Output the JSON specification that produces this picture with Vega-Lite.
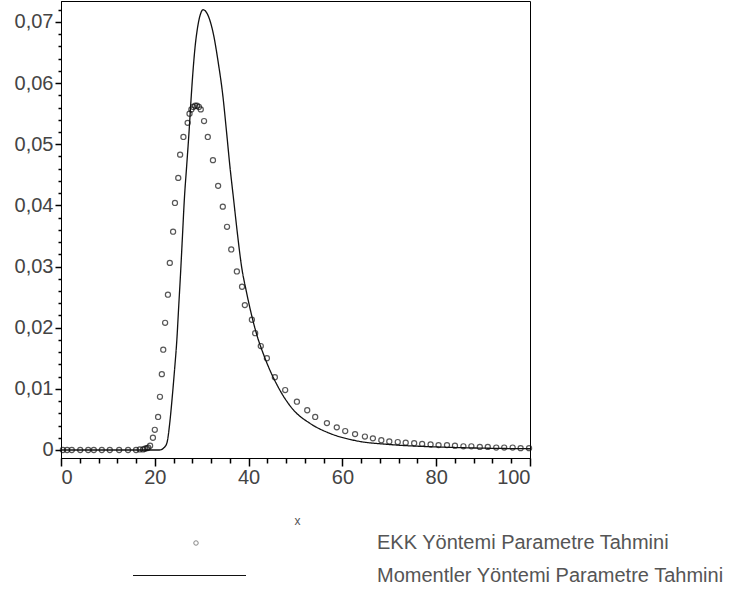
{
  "$schema": "https://vega.github.io/schema/vega-lite/v6.json",
  "width": 469,
  "height": 457,
  "autosize": {"type": "none"},
  "padding": {"left": 61, "top": 1, "right": 205, "bottom": 142},
  "background": "white",
  "config": {"view": {"stroke": "#000", "strokeWidth": 1}, "font": "Liberation Sans", "axis": {"tickWidth": 1.5, "tickOpacity": 1, "zindex": 1}},
  "datasets": {
    "ekk": [
      {"x": 0.4, "y": 0, "series": "EKK Yöntemi Parametre Tahmini"},
      {"x": 1.3, "y": 0, "series": "EKK Yöntemi Parametre Tahmini"},
      {"x": 2.3, "y": 0, "series": "EKK Yöntemi Parametre Tahmini"},
      {"x": 4.1, "y": 0, "series": "EKK Yöntemi Parametre Tahmini"},
      {"x": 5.8, "y": 0, "series": "EKK Yöntemi Parametre Tahmini"},
      {"x": 7.0, "y": 0, "series": "EKK Yöntemi Parametre Tahmini"},
      {"x": 8.7, "y": 0, "series": "EKK Yöntemi Parametre Tahmini"},
      {"x": 10.4, "y": 0, "series": "EKK Yöntemi Parametre Tahmini"},
      {"x": 12.4, "y": 0, "series": "EKK Yöntemi Parametre Tahmini"},
      {"x": 14.3, "y": 0, "series": "EKK Yöntemi Parametre Tahmini"},
      {"x": 16.0, "y": 0, "series": "EKK Yöntemi Parametre Tahmini"},
      {"x": 16.8, "y": 0.0001, "series": "EKK Yöntemi Parametre Tahmini"},
      {"x": 17.5, "y": 0.0001, "series": "EKK Yöntemi Parametre Tahmini"},
      {"x": 17.9, "y": 0.0002, "series": "EKK Yöntemi Parametre Tahmini"},
      {"x": 18.3, "y": 0.0003, "series": "EKK Yöntemi Parametre Tahmini"},
      {"x": 18.6, "y": 0.0004, "series": "EKK Yöntemi Parametre Tahmini"},
      {"x": 19.0, "y": 0.0007, "series": "EKK Yöntemi Parametre Tahmini"},
      {"x": 19.6, "y": 0.002, "series": "EKK Yöntemi Parametre Tahmini"},
      {"x": 20.0, "y": 0.0033, "series": "EKK Yöntemi Parametre Tahmini"},
      {"x": 20.7, "y": 0.0054, "series": "EKK Yöntemi Parametre Tahmini"},
      {"x": 21.1, "y": 0.0087, "series": "EKK Yöntemi Parametre Tahmini"},
      {"x": 21.5, "y": 0.0124, "series": "EKK Yöntemi Parametre Tahmini"},
      {"x": 21.8, "y": 0.0164, "series": "EKK Yöntemi Parametre Tahmini"},
      {"x": 22.2, "y": 0.0208, "series": "EKK Yöntemi Parametre Tahmini"},
      {"x": 22.8, "y": 0.0254, "series": "EKK Yöntemi Parametre Tahmini"},
      {"x": 23.2, "y": 0.0306, "series": "EKK Yöntemi Parametre Tahmini"},
      {"x": 23.9, "y": 0.0357, "series": "EKK Yöntemi Parametre Tahmini"},
      {"x": 24.3, "y": 0.0404, "series": "EKK Yöntemi Parametre Tahmini"},
      {"x": 25.0, "y": 0.0445, "series": "EKK Yöntemi Parametre Tahmini"},
      {"x": 25.4, "y": 0.0483, "series": "EKK Yöntemi Parametre Tahmini"},
      {"x": 26.1, "y": 0.0512, "series": "EKK Yöntemi Parametre Tahmini"},
      {"x": 27.0, "y": 0.0535, "series": "EKK Yöntemi Parametre Tahmini"},
      {"x": 27.4, "y": 0.055, "series": "EKK Yöntemi Parametre Tahmini"},
      {"x": 27.8, "y": 0.0557, "series": "EKK Yöntemi Parametre Tahmini"},
      {"x": 28.2, "y": 0.0561, "series": "EKK Yöntemi Parametre Tahmini"},
      {"x": 28.6, "y": 0.0563, "series": "EKK Yöntemi Parametre Tahmini"},
      {"x": 29.0, "y": 0.0563, "series": "EKK Yöntemi Parametre Tahmini"},
      {"x": 29.4, "y": 0.0561, "series": "EKK Yöntemi Parametre Tahmini"},
      {"x": 29.8, "y": 0.0557, "series": "EKK Yöntemi Parametre Tahmini"},
      {"x": 30.5, "y": 0.0538, "series": "EKK Yöntemi Parametre Tahmini"},
      {"x": 31.3, "y": 0.0512, "series": "EKK Yöntemi Parametre Tahmini"},
      {"x": 32.4, "y": 0.0474, "series": "EKK Yöntemi Parametre Tahmini"},
      {"x": 33.5, "y": 0.0432, "series": "EKK Yöntemi Parametre Tahmini"},
      {"x": 34.5, "y": 0.0398, "series": "EKK Yöntemi Parametre Tahmini"},
      {"x": 35.4, "y": 0.0365, "series": "EKK Yöntemi Parametre Tahmini"},
      {"x": 36.3, "y": 0.0328, "series": "EKK Yöntemi Parametre Tahmini"},
      {"x": 37.5, "y": 0.0292, "series": "EKK Yöntemi Parametre Tahmini"},
      {"x": 38.6, "y": 0.0267, "series": "EKK Yöntemi Parametre Tahmini"},
      {"x": 39.2, "y": 0.0237, "series": "EKK Yöntemi Parametre Tahmini"},
      {"x": 40.7, "y": 0.0213, "series": "EKK Yöntemi Parametre Tahmini"},
      {"x": 41.4, "y": 0.0191, "series": "EKK Yöntemi Parametre Tahmini"},
      {"x": 42.6, "y": 0.017, "series": "EKK Yöntemi Parametre Tahmini"},
      {"x": 43.9, "y": 0.015, "series": "EKK Yöntemi Parametre Tahmini"},
      {"x": 45.6, "y": 0.0119, "series": "EKK Yöntemi Parametre Tahmini"},
      {"x": 47.8, "y": 0.0098, "series": "EKK Yöntemi Parametre Tahmini"},
      {"x": 50.3, "y": 0.0079, "series": "EKK Yöntemi Parametre Tahmini"},
      {"x": 52.5, "y": 0.0065, "series": "EKK Yöntemi Parametre Tahmini"},
      {"x": 54.2, "y": 0.0054, "series": "EKK Yöntemi Parametre Tahmini"},
      {"x": 56.7, "y": 0.0044, "series": "EKK Yöntemi Parametre Tahmini"},
      {"x": 58.8, "y": 0.0037, "series": "EKK Yöntemi Parametre Tahmini"},
      {"x": 60.6, "y": 0.0031, "series": "EKK Yöntemi Parametre Tahmini"},
      {"x": 62.7, "y": 0.0026, "series": "EKK Yöntemi Parametre Tahmini"},
      {"x": 64.8, "y": 0.0022, "series": "EKK Yöntemi Parametre Tahmini"},
      {"x": 66.5, "y": 0.0019, "series": "EKK Yöntemi Parametre Tahmini"},
      {"x": 68.3, "y": 0.0016, "series": "EKK Yöntemi Parametre Tahmini"},
      {"x": 70.0, "y": 0.0014, "series": "EKK Yöntemi Parametre Tahmini"},
      {"x": 71.8, "y": 0.0013, "series": "EKK Yöntemi Parametre Tahmini"},
      {"x": 73.5, "y": 0.0012, "series": "EKK Yöntemi Parametre Tahmini"},
      {"x": 75.3, "y": 0.0011, "series": "EKK Yöntemi Parametre Tahmini"},
      {"x": 77.0, "y": 0.001, "series": "EKK Yöntemi Parametre Tahmini"},
      {"x": 78.8, "y": 0.0009, "series": "EKK Yöntemi Parametre Tahmini"},
      {"x": 80.5, "y": 0.0008, "series": "EKK Yöntemi Parametre Tahmini"},
      {"x": 82.3, "y": 0.0008, "series": "EKK Yöntemi Parametre Tahmini"},
      {"x": 84.0, "y": 0.0007, "series": "EKK Yöntemi Parametre Tahmini"},
      {"x": 85.8, "y": 0.0006, "series": "EKK Yöntemi Parametre Tahmini"},
      {"x": 87.5, "y": 0.0006, "series": "EKK Yöntemi Parametre Tahmini"},
      {"x": 89.3, "y": 0.0005, "series": "EKK Yöntemi Parametre Tahmini"},
      {"x": 91.0, "y": 0.0005, "series": "EKK Yöntemi Parametre Tahmini"},
      {"x": 92.8, "y": 0.0004, "series": "EKK Yöntemi Parametre Tahmini"},
      {"x": 94.5, "y": 0.0004, "series": "EKK Yöntemi Parametre Tahmini"},
      {"x": 96.3, "y": 0.0004, "series": "EKK Yöntemi Parametre Tahmini"},
      {"x": 98.0, "y": 0.0003, "series": "EKK Yöntemi Parametre Tahmini"},
      {"x": 99.8, "y": 0.0003, "series": "EKK Yöntemi Parametre Tahmini"}
    ],
    "mom": [
      {"x": 0, "y": 0, "series": "Momentler Yöntemi Parametre Tahmini"},
      {"x": 10, "y": 0, "series": "Momentler Yöntemi Parametre Tahmini"},
      {"x": 21, "y": 0, "series": "Momentler Yöntemi Parametre Tahmini"},
      {"x": 22, "y": 0.0004, "series": "Momentler Yöntemi Parametre Tahmini"},
      {"x": 22.6, "y": 0.0012, "series": "Momentler Yöntemi Parametre Tahmini"},
      {"x": 23.2, "y": 0.0045, "series": "Momentler Yöntemi Parametre Tahmini"},
      {"x": 23.7, "y": 0.0085, "series": "Momentler Yöntemi Parametre Tahmini"},
      {"x": 24.2, "y": 0.013, "series": "Momentler Yöntemi Parametre Tahmini"},
      {"x": 24.7, "y": 0.018, "series": "Momentler Yöntemi Parametre Tahmini"},
      {"x": 25.1, "y": 0.0235, "series": "Momentler Yöntemi Parametre Tahmini"},
      {"x": 25.5, "y": 0.029, "series": "Momentler Yöntemi Parametre Tahmini"},
      {"x": 25.9, "y": 0.035, "series": "Momentler Yöntemi Parametre Tahmini"},
      {"x": 26.3, "y": 0.041, "series": "Momentler Yöntemi Parametre Tahmini"},
      {"x": 26.8, "y": 0.0465, "series": "Momentler Yöntemi Parametre Tahmini"},
      {"x": 27.3, "y": 0.052, "series": "Momentler Yöntemi Parametre Tahmini"},
      {"x": 27.7, "y": 0.057, "series": "Momentler Yöntemi Parametre Tahmini"},
      {"x": 28.1, "y": 0.0615, "series": "Momentler Yöntemi Parametre Tahmini"},
      {"x": 28.6, "y": 0.066, "series": "Momentler Yöntemi Parametre Tahmini"},
      {"x": 29.1, "y": 0.069, "series": "Momentler Yöntemi Parametre Tahmini"},
      {"x": 29.7, "y": 0.0712, "series": "Momentler Yöntemi Parametre Tahmini"},
      {"x": 30.3, "y": 0.072, "series": "Momentler Yöntemi Parametre Tahmini"},
      {"x": 31.5, "y": 0.0708, "series": "Momentler Yöntemi Parametre Tahmini"},
      {"x": 32.5, "y": 0.068, "series": "Momentler Yöntemi Parametre Tahmini"},
      {"x": 33.5, "y": 0.0635, "series": "Momentler Yöntemi Parametre Tahmini"},
      {"x": 34.5, "y": 0.058, "series": "Momentler Yöntemi Parametre Tahmini"},
      {"x": 35.3, "y": 0.052, "series": "Momentler Yöntemi Parametre Tahmini"},
      {"x": 36.0, "y": 0.0465, "series": "Momentler Yöntemi Parametre Tahmini"},
      {"x": 36.8, "y": 0.041, "series": "Momentler Yöntemi Parametre Tahmini"},
      {"x": 37.6, "y": 0.0355, "series": "Momentler Yöntemi Parametre Tahmini"},
      {"x": 38.5, "y": 0.030, "series": "Momentler Yöntemi Parametre Tahmini"},
      {"x": 39.5, "y": 0.026, "series": "Momentler Yöntemi Parametre Tahmini"},
      {"x": 40.5, "y": 0.0225, "series": "Momentler Yöntemi Parametre Tahmini"},
      {"x": 41.5, "y": 0.0195, "series": "Momentler Yöntemi Parametre Tahmini"},
      {"x": 43.5, "y": 0.015, "series": "Momentler Yöntemi Parametre Tahmini"},
      {"x": 46.3, "y": 0.0103, "series": "Momentler Yöntemi Parametre Tahmini"},
      {"x": 49.5, "y": 0.0066, "series": "Momentler Yöntemi Parametre Tahmini"},
      {"x": 53.0, "y": 0.0044, "series": "Momentler Yöntemi Parametre Tahmini"},
      {"x": 57.4, "y": 0.0027, "series": "Momentler Yöntemi Parametre Tahmini"},
      {"x": 63.0, "y": 0.0015, "series": "Momentler Yöntemi Parametre Tahmini"},
      {"x": 70.0, "y": 0.0009, "series": "Momentler Yöntemi Parametre Tahmini"},
      {"x": 80.0, "y": 0.0005, "series": "Momentler Yöntemi Parametre Tahmini"},
      {"x": 90.0, "y": 0.0003, "series": "Momentler Yöntemi Parametre Tahmini"},
      {"x": 100.0, "y": 0.0002, "series": "Momentler Yöntemi Parametre Tahmini"}
    ]
  },
  "resolve": {"axis": {"x": "independent", "y": "independent"}},
  "layer": [
    {
      "data": {"name": "mom"},
      "mark": {"type": "line", "color": "#111", "strokeWidth": 1.3, "interpolate": "monotone"},
      "encoding": {
        "x": {
          "field": "x", "type": "quantitative",
          "scale": {"domain": [0, 100], "nice": false, "zero": false},
          "axis": {
            "orient": "bottom", "title": null, "labels": false, "gridOpacity": 0,
            "values": [4,8,12,16,24,28,32,36,44,48,52,56,64,68,72,76,84,88,92,96],
            "tickSize": 5, "tickWidth": 1.5, "tickColor": "#000", "domainColor": "#000", "domainWidth": 1
          }
        },
        "y": {
          "field": "y", "type": "quantitative",
          "scale": {"domain": [-0.00131, 0.07343], "nice": false, "zero": false},
          "axis": {
            "orient": "left", "title": null, "labels": false, "gridOpacity": 0,
            "values": [0.002,0.004,0.006,0.008,0.012,0.014,0.016,0.018,0.022,0.024,0.026,0.028,0.032,0.034,0.036,0.038,0.042,0.044,0.046,0.048,0.052,0.054,0.056,0.058,0.062,0.064,0.066,0.068,0.072],
            "tickSize": 3, "tickWidth": 1.5, "tickColor": "#000", "domainColor": "#000", "domainWidth": 1
          }
        },
        "strokeDash": {
          "field": "series", "type": "nominal",
          "scale": {"range": [[1, 0]]},
          "legend": {
            "title": null, "orient": "none", "legendX": 71, "legendY": 517, "padding": 0,
            "symbolType": "stroke", "symbolSize": 12769, "symbolStrokeWidth": 1.2, "symbolStrokeColor": "#111",
            "labelOffset": 130, "labelFontSize": 20, "labelColor": "#555", "labelFont": "Liberation Sans", "labelLimit": 0
          }
        }
      }
    },
    {
      "data": {"name": "ekk"},
      "mark": {"type": "point", "filled": false, "size": 26, "color": "#111", "strokeWidth": 1.2},
      "encoding": {
        "x": {
          "field": "x", "type": "quantitative",
          "axis": {
            "orient": "bottom", "gridOpacity": 0,
            "title": "x", "titleFontSize": 12, "titleFontWeight": "normal", "titleColor": "#555",
            "titleX": 236, "titleY": 62, "titleBaseline": "middle",
            "values": [0, 20, 40, 60, 80, 100], "format": "d",
            "tickSize": 8, "tickWidth": 1.5, "tickColor": "#000", "domainColor": "#000", "domainWidth": 1,
            "labelFont": "Liberation Sans", "labelFontSize": 20, "labelColor": "#444",
            "labelPadding": 1
          }
        },
        "y": {
          "field": "y", "type": "quantitative",
          "axis": {
            "orient": "left", "title": null, "gridOpacity": 0,
            "values": [0, 0.01, 0.02, 0.03, 0.04, 0.05, 0.06, 0.07],
            "labelExpr": "datum.value === 0 ? '0' : replace(format(datum.value, '.2f'), '.', ',')",
            "tickSize": 6, "tickWidth": 1.5, "tickColor": "#000", "domainColor": "#000", "domainWidth": 1,
            "labelFont": "Liberation Sans", "labelFontSize": 20, "labelColor": "#444",
            "labelPadding": 2
          }
        },
        "shape": {
          "field": "series", "type": "nominal",
          "scale": {"range": ["circle"]},
          "legend": {
            "title": null, "orient": "none", "legendX": 125, "legendY": 532, "padding": 0,
            "symbolType": "circle", "symbolSize": 20, "symbolStrokeWidth": 1, "symbolStrokeColor": "#555",
            "symbolFillColor": "transparent",
            "labelOffset": 171, "labelFontSize": 20, "labelColor": "#555", "labelFont": "Liberation Sans", "labelLimit": 0
          }
        }
      }
    }
  ]
}
